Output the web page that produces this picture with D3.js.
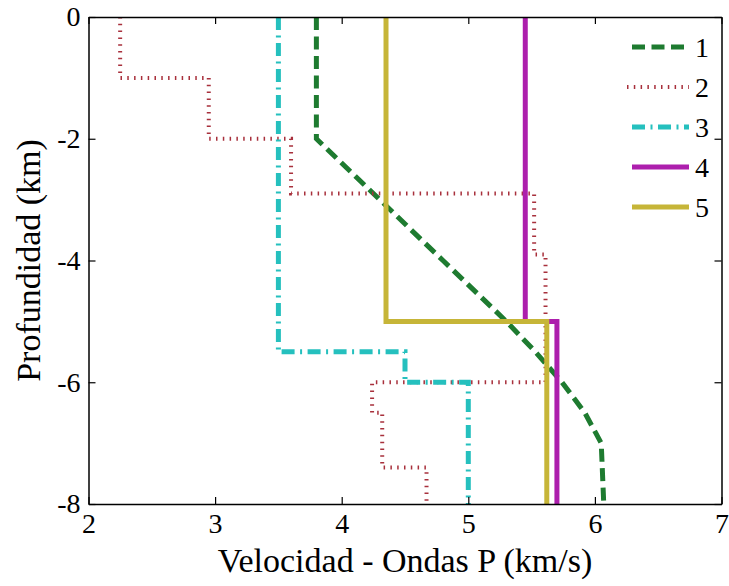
<!DOCTYPE html>
<html>
<head>
<meta charset="utf-8">
<script src="https://cdn.jsdelivr.net/npm/d3@7"></script>
<style>
  html, body { margin: 0; padding: 0; background: #fff; }
  svg { display: block; }
</style>
</head>
<body>
<svg id="chart" width="729" height="586"></svg>
<script>
// P-wave velocity models (km/s) against depth (km)
const seriesNames = ["1", "2", "3", "4", "5"];

const depth1 = [0, -2, -3, -4, -5, -5.5, -6, -6.5, -7, -8];
const vel1   = [3.8, 3.8, 4.3, 4.8, 5.3, 5.53, 5.74, 5.92, 6.05, 6.07];

const depth2 = [0, -1, -1, -2, -2, -2.9, -2.9, -3.9, -3.9, -6, -6, -6.5, -6.5, -7.4, -7.4, -8];
const vel2   = [2.25, 2.25, 2.95, 2.95, 3.6, 3.6, 5.52, 5.52, 5.61, 5.61, 4.24, 4.24, 4.32, 4.32, 4.67, 4.67];

const depth3 = [0, -5.5, -5.5, -6, -6, -8];
const vel3   = [3.5, 3.5, 4.5, 4.5, 5.0, 5.0];

const depth4 = [0, -5, -5, -8];
const vel4   = [5.45, 5.45, 5.7, 5.7];

const depth5 = [0, -5, -5, -8];
const vel5   = [4.35, 4.35, 5.62, 5.62];

const xTicks = [2, 3, 4, 5, 6, 7];
const yTicks = [0, -2, -4, -6, -8];

const xLabel = "Velocidad - Ondas P (km/s)";
const yLabel = "Profundidad (km)";

// line styles per series
const styles = [
  { color: "#1e7b30", width: 5, dash: "13,6.5" },
  { color: "#a8303c", width: 4, dash: "1.5,5.3" },
  { color: "#25c0be", width: 5, dash: "13,5.5,2,5.5" },
  { color: "#ad1fad", width: 5, dash: null },
  { color: "#c6b538", width: 5, dash: null }
];

const series = [
  { v: vel1, d: depth1 },
  { v: vel2, d: depth2 },
  { v: vel3, d: depth3 },
  { v: vel4, d: depth4 },
  { v: vel5, d: depth5 }
];

// pick the first installed Times-like face
function pickSerif() {
  const candidates = ["Liberation Serif", "Times New Roman", "Tinos", "Times",
                      "DejaVu Serif", "Noto Serif", "FreeSerif", "Nimbus Roman"];
  const ctx = document.createElement("canvas").getContext("2d");
  const probe = "Velocidad Profundidad 0123456789 mmmWWWiii";
  const widthWith = f => { ctx.font = "40px " + f; return ctx.measureText(probe).width; };
  const baseMono = widthWith("monospace");
  const baseSans = widthWith("sans-serif");
  for (const name of candidates) {
    const a = widthWith(`"${name}", monospace`);
    const b = widthWith(`"${name}", sans-serif`);
    if (a !== baseMono || b !== baseSans) return `"${name}", serif`;
  }
  return "serif";
}
const serifFont = pickSerif();

const svg = d3.select("#chart");
const box = { left: 88.5, right: 721.5, top: 17, bottom: 504 };

const x = d3.scaleLinear().domain([2, 7]).range([box.left, box.right]);
const y = d3.scaleLinear().domain([0, -8]).range([box.top, box.bottom]);

const fmt = d => String(d);
const tickFont = 28;

// series lines, clipped to the axes box
svg.append("clipPath").attr("id", "plotclip")
  .append("rect").attr("x", box.left).attr("y", box.top - 3)
  .attr("width", box.right - box.left).attr("height", box.bottom - box.top + 3);

const line = d3.line().x(p => x(p[0])).y(p => y(p[1]));
const plot = svg.append("g").attr("clip-path", "url(#plotclip)");
series.forEach((s, i) => {
  const pts = s.v.map((v, k) => [v, s.d[k]]);
  plot.append("path")
    .attr("d", line(pts))
    .attr("fill", "none")
    .attr("stroke", styles[i].color)
    .attr("stroke-width", styles[i].width)
    .attr("stroke-dasharray", styles[i].dash)
    .attr("stroke-linejoin", "miter")
    .attr("stroke-linecap", "butt");
});

// axes with inward ticks on all four sides
function styleAxis(g) {
  g.attr("font-family", null).attr("font-size", null);
  g.select(".domain").attr("stroke", "#000").attr("stroke-width", 1.5);
  g.selectAll(".tick line").attr("stroke", "#000").attr("stroke-width", 1.2);
  g.selectAll("text")
    .attr("font-family", serifFont)
    .attr("font-size", tickFont)
    .attr("fill", "#000");
}

svg.append("g").attr("transform", `translate(0,${box.bottom})`)
  .call(d3.axisBottom(x).tickValues(xTicks).tickFormat(fmt).tickSizeInner(-7).tickSizeOuter(0).tickPadding(9))
  .call(styleAxis);
svg.append("g").attr("transform", `translate(0,${box.top})`)
  .call(d3.axisTop(x).tickValues(xTicks).tickFormat("").tickSizeInner(-7).tickSizeOuter(0))
  .call(styleAxis);
svg.append("g").attr("transform", `translate(${box.left},0)`)
  .call(d3.axisLeft(y).tickValues(yTicks).tickFormat(fmt).tickSizeInner(-7).tickSizeOuter(0).tickPadding(8))
  .call(styleAxis);
svg.append("g").attr("transform", `translate(${box.right},0)`)
  .call(d3.axisRight(y).tickValues(yTicks).tickFormat("").tickSizeInner(-7).tickSizeOuter(0))
  .call(styleAxis);

// axis titles
svg.append("text")
  .attr("x", (box.left + box.right) / 2).attr("y", 572)
  .attr("text-anchor", "middle")
  .attr("font-family", serifFont).attr("font-size", 34)
  .text(xLabel);
svg.append("text")
  .attr("transform", `translate(40,${(box.top + box.bottom) / 2}) rotate(-90)`)
  .attr("text-anchor", "middle")
  .attr("font-family", serifFont).attr("font-size", 34)
  .text(yLabel);

// legend
const legend = svg.append("g");
seriesNames.forEach((name, i) => {
  const cy = 47 + i * 40;
  legend.append("line")
    .attr("x1", i === 1 ? 627 : 632).attr("x2", 689)
    .attr("y1", cy).attr("y2", cy)
    .attr("stroke", styles[i].color)
    .attr("stroke-width", styles[i].width)
    .attr("stroke-dasharray", styles[i].dash)
    .attr("stroke-linecap", "butt");
  legend.append("text")
    .attr("x", 695).attr("y", cy).attr("dy", "0.35em")
    .attr("font-family", serifFont).attr("font-size", tickFont)
    .text(name);
});
</script>
</body>
</html>
